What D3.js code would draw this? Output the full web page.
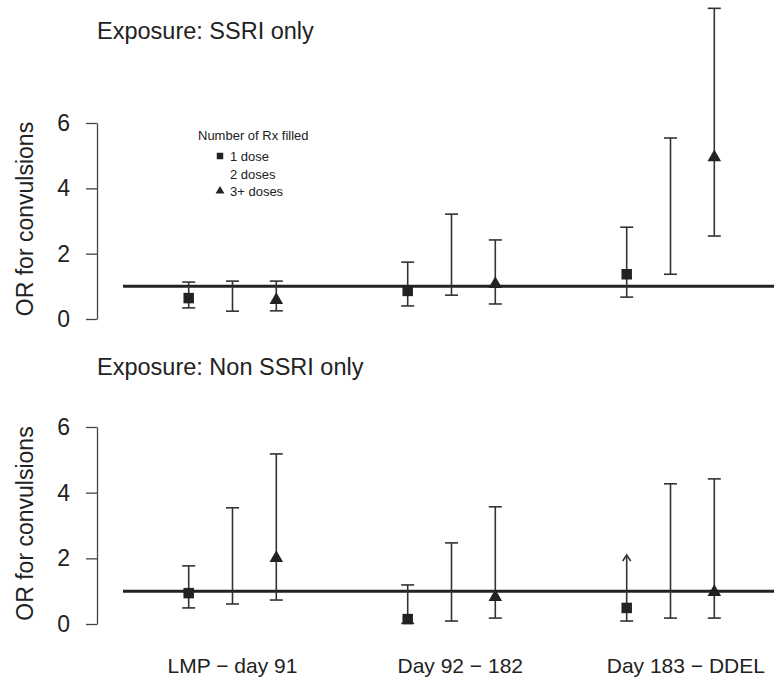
<!DOCTYPE html>
<html lang="en">
<head>
    <meta charset="UTF-8">
    <title>OR for convulsions by exposure window</title>
    <script src="https://d3js.org/d3.v7.min.js"></script>
    <style>
        body { margin: 0; background: #fff; }
        text { font-family: "Liberation Sans", Arial, sans-serif; fill: #222; }
    </style>
</head>
<body>
    <svg width="774" height="681"></svg>

    <script>
        // exposure windows (x axis) and dose groups
        const periods = ["LMP \u2212 day 91", "Day 92 \u2212 182", "Day 183 \u2212 DDEL"];
        const doses = ["1 dose", "2 doses", "3+ doses"];
        const doseMarker = ["square", null, "triangle"];
        const doseOffset = [-0.2, 0, 0.2];
        const labelAt = [1, 2.04, 3.07];
        const yTicks = [0, 2, 4, 6];

        // values ordered period by period: 1 dose, 2 doses, 3+ doses
        const ssriOR = [0.64, null, 0.58, 0.86, null, 1.07, 1.37, null, 4.95];
        const ssriLo = [0.34, 0.24, 0.25, 0.40, 0.73, 0.46, 0.67, 1.37, 2.54];
        const ssriHi = [1.13, 1.16, 1.16, 1.74, 3.21, 2.42, 2.81, 5.54, 9.51];

        const nonOR = [0.94, null, 2.01, 0.15, null, 0.82, 0.49, null, 0.97];
        const nonLo = [0.49, 0.61, 0.73, 0.02, 0.09, 0.18, 0.09, 0.18, 0.18];
        const nonHi = [1.77, 3.54, 5.18, 1.19, 2.47, 3.57, 2.10, 4.27, 4.42];
        const nonOpen = [false, false, false, false, false, false, true, false, false];

        const svg = d3.select("svg");
        const x = d3.scaleLinear().domain([0.5, 3.5]).range([123, 780]);

        svg.append("defs").append("clipPath").attr("id", "plotclip")
            .append("rect").attr("x", 123).attr("y", 0).attr("width", 651).attr("height", 681);

        function rows(or, lo, hi, open) {
            const out = [];
            periods.forEach((p, i) => {
                doses.forEach((d, j) => {
                    const k = i * 3 + j;
                    out.push({ pos: i + 1 + doseOffset[j], marker: doseMarker[j],
                               or: or[k], lo: lo[k], hi: hi[k], open: open ? open[k] : false });
                });
            });
            return out;
        }

        function panel(title, titleY, yRange, data) {
            const y = d3.scaleLinear().domain([0, 6]).range(yRange);
            const g = svg.append("g");

            g.append("text").attr("x", 97).attr("y", titleY)
                .style("font-size", "23.5px").text(title);

            // y axis, R style
            const ax = g.append("g").attr("transform", "translate(97,0)")
                .call(d3.axisLeft(y).tickValues(yTicks).tickFormat(d3.format("d"))
                    .tickSize(11).tickSizeOuter(0).tickPadding(16));
            ax.selectAll("path, line").attr("stroke", "#444").attr("stroke-width", 1.3);
            ax.selectAll("text").style("font-size", "23px")
                .style("font-family", "Liberation Sans, Arial, sans-serif").attr("fill", "#222");

            g.append("text")
                .attr("transform", `translate(33,${(y(0) + y(6)) / 2 - 2}) rotate(-90)`)
                .attr("text-anchor", "middle")
                .style("font-size", "23px")
                .text("OR for convulsions");

            const plot = g.append("g").attr("clip-path", "url(#plotclip)");

            // reference line at OR = 1
            plot.append("line")
                .attr("x1", x(0.5)).attr("x2", x(3.5))
                .attr("y1", y(1)).attr("y2", y(1))
                .attr("stroke", "#222").attr("stroke-width", 3);

            const bars = plot.selectAll(".ci").data(data).enter().append("g").attr("class", "ci")
                .attr("stroke", "#333").attr("stroke-width", 1.6).attr("fill", "none");

            bars.append("line")
                .attr("x1", d => x(d.pos)).attr("x2", d => x(d.pos))
                .attr("y1", d => y(d.lo)).attr("y2", d => y(d.hi));
            bars.append("line")
                .attr("x1", d => x(d.pos) - 6.5).attr("x2", d => x(d.pos) + 6.5)
                .attr("y1", d => y(d.lo)).attr("y2", d => y(d.lo));
            bars.filter(d => !d.open).append("line")
                .attr("x1", d => x(d.pos) - 6.5).attr("x2", d => x(d.pos) + 6.5)
                .attr("y1", d => y(d.hi)).attr("y2", d => y(d.hi));
            bars.filter(d => d.open).append("path")
                .attr("d", d => `M${x(d.pos) - 4},${y(d.hi) + 6}L${x(d.pos)},${y(d.hi)}L${x(d.pos) + 4},${y(d.hi) + 6}`);

            plot.selectAll(".pt").data(data.filter(d => d.marker && d.or != null)).enter()
                .append("path").attr("class", "pt")
                .attr("transform", d => `translate(${x(d.pos)},${y(d.or)})`)
                .attr("d", d => d3.symbol()
                    .type(d.marker === "square" ? d3.symbolSquare : d3.symbolTriangle)
                    .size(d.marker === "square" ? 110 : 80)())
                .attr("fill", "#222");

            return y;
        }

        panel("Exposure: SSRI only", 39, [319, 123], rows(ssriOR, ssriLo, ssriHi));
        panel("Exposure: Non SSRI only", 375, [624, 427], rows(nonOR, nonLo, nonHi, nonOpen));

        // x labels
        svg.selectAll(".xlab").data(periods).enter().append("text")
            .attr("class", "xlab")
            .attr("x", (d, i) => x(labelAt[i]))
            .attr("y", 673)
            .attr("text-anchor", "middle")
            .style("font-size", "21px")
            .text(d => d);

        // legend
        const leg = svg.append("g").style("font-size", "13px");
        leg.append("text").attr("x", 198).attr("y", 140).text("Number of Rx filled");
        doses.forEach((d, i) => {
            const ly = 156 + i * 17.5;
            leg.append("text").attr("x", 230).attr("y", ly + 5).text(d);
            if (doseMarker[i]) {
                leg.append("path")
                    .attr("transform", `translate(220,${ly})`)
                    .attr("d", d3.symbol()
                        .type(doseMarker[i] === "square" ? d3.symbolSquare : d3.symbolTriangle)
                        .size(doseMarker[i] === "square" ? 42 : 34)())
                    .attr("fill", "#222");
            }
        });
    </script>
</body>
</html>
